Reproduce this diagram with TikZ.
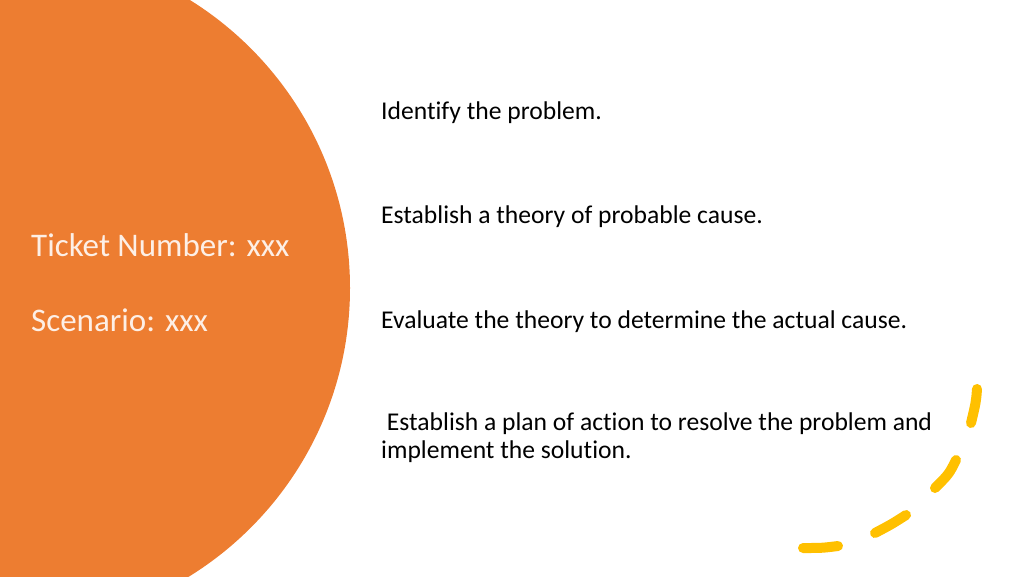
\documentclass[tikz,border=0pt]{standalone}
\usepackage{fontspec}
\setmainfont[Ligatures={NoCommon}]{Carlito}
\definecolor{orng}{HTML}{ED7D31}
\definecolor{ylw}{HTML}{FFC000}
\begin{document}
\begin{tikzpicture}[x=1pt,y=-1pt,
  body/.style={anchor=west,font=\fontsize{25.6}{27.5}\selectfont,text=black,inner sep=0pt,align=left},
  title/.style={anchor=west,font=\fontsize{33}{38}\selectfont,text=white!88!orng,inner sep=0pt},
  dsh/.style={ylw,line width=10pt,line cap=round}]
\useasboundingbox (0,0) rectangle (1024,576);
\fill[orng] (11,288) circle[radius=339];
\node[title] (t1) at (31,245) {Ticket Number: xxx};
\node[title] (t2) at (31,320) {Scenario: xxx};
\node[body] (s1) at (381,113) {Identify the problem.};
\node[body] (s2) at (381,217) {Establish a theory of probable cause.};
\node[body] (s3) at (381,322) {Evaluate the theory to determine the actual cause.};
\node[body,anchor=north west] (s4) at (381,413) {\ Establish a plan of action to resolve the problem and\\implement the solution.};
\draw[dsh] (977,389) .. controls (976,402) .. (971,423);
\draw[dsh] (956,460) .. controls (949,474) .. (935,488);
\draw[dsh] (906,515) .. controls (892,524) .. (875,533);
\draw[dsh] (838,546) .. controls (822,548) .. (803,548);
\end{tikzpicture}
\end{document}
